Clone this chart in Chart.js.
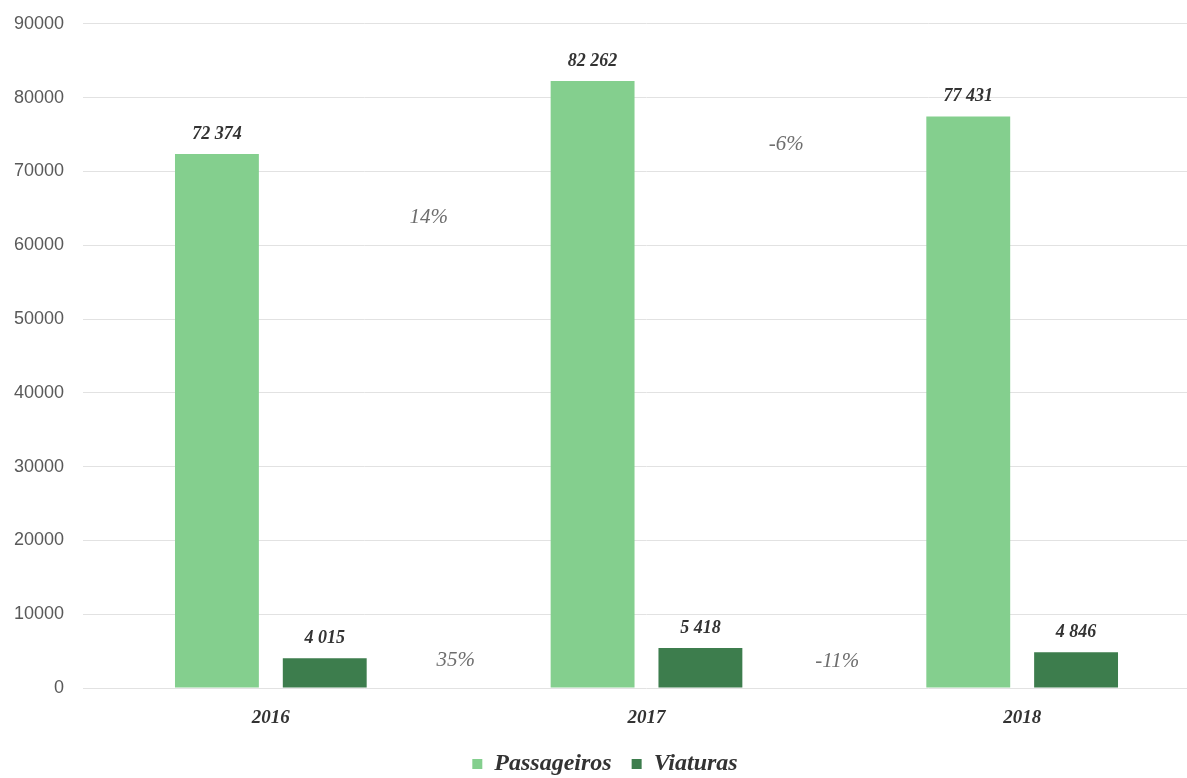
<!DOCTYPE html>
<html>
<head>
<meta charset="utf-8">
<script src="https://cdn.jsdelivr.net/npm/chart.js@4/dist/chart.umd.min.js"></script>
<style>
  html, body { margin: 0; padding: 0; background: #fff; overflow: hidden; }
  #chart { display: block; margin-top: -6px; }
</style>
</head>
<body>
<canvas id="chart" width="1220" height="792"></canvas>
<script>
var years = ["2016", "2017", "2018"];
var passageiros = [72374, 82262, 77431];
var viaturas = [4015, 5418, 4846];
var yTicks = [0, 10000, 20000, 30000, 40000, 50000, 60000, 70000, 80000, 90000];

function fmt(v) {
  return String(v).replace(/\B(?=(\d{3})+(?!\d))/g, " ");
}

function growth(arr, i) {
  var p = Math.round((arr[i + 1] / arr[i] - 1) * 100);
  return (p < 0 ? "-" : "") + Math.abs(p) + "%";
}

// value labels above every bar
var valueLabels = {
  id: "valueLabels",
  afterDatasetsDraw: function (chart) {
    var c = chart.ctx;
    c.save();
    c.font = "italic bold 18px 'Liberation Serif'";
    c.fillStyle = "#333";
    c.textAlign = "center";
    c.textBaseline = "middle";
    chart.data.datasets.forEach(function (ds, di) {
      chart.getDatasetMeta(di).data.forEach(function (bar, i) {
        c.fillText(fmt(ds.data[i]), bar.x, bar.y - 20);
      });
    });
    c.restore();
  }
};

// year-on-year change between the groups
var changeLabels = {
  id: "changeLabels",
  afterDatasetsDraw: function (chart) {
    var c = chart.ctx, x = chart.scales.x, y = chart.scales.y;
    var spots = [
      { arr: passageiros, i: 0, dx: -30, v: 63700 },
      { arr: viaturas, i: 0, dx: -3, v: 3700 },
      { arr: passageiros, i: 1, dx: -48, v: 73700 },
      { arr: viaturas, i: 1, dx: 3, v: 3600 }
    ];
    c.save();
    c.font = "italic 21px 'Liberation Serif'";
    c.fillStyle = "#6e6e6e";
    c.textAlign = "center";
    c.textBaseline = "middle";
    spots.forEach(function (s) {
      var mid = (x.getPixelForValue(s.i) + x.getPixelForValue(s.i + 1)) / 2;
      c.fillText(growth(s.arr, s.i), mid + s.dx, y.getPixelForValue(s.v));
    });
    c.restore();
  }
};

var ctx = document.getElementById("chart").getContext("2d");
var chart = new Chart(ctx, {
  type: "bar",
  data: {
    labels: years,
    datasets: [
      {
        label: "Passageiros",
        backgroundColor: "#84cf8e",
        data: passageiros
      },
      {
        label: "Viaturas",
        backgroundColor: "#3d7d4d",
        data: viaturas
      }
    ]
  },
  options: {
    responsive: false,
    animation: false,
    categoryPercentage: 0.574,
    barPercentage: 0.778,
    layout: { padding: { top: 2, right: 10, left: 0, bottom: 0 } },
    plugins: {
      tooltip: { enabled: false },
      legend: {
        position: "bottom",
        labels: {
          boxWidth: 10,
          boxHeight: 10,
          padding: 20,
          color: "#333",
          font: { family: "'Liberation Serif'", size: 24, style: "italic", weight: "bold" }
        }
      }
    },
    scales: {
      x: {
        grid: { display: false },
        border: { display: false },
        ticks: {
          padding: 11,
          color: "#333",
          font: { family: "'Liberation Serif'", size: 19, style: "italic", weight: "bold" }
        },
        afterFit: function (s) { s.height = 44; }
      },
      y: {
        min: 0,
        max: 90000,
        afterBuildTicks: function (s) {
          s.ticks = yTicks.map(function (v) { return { value: v }; });
        },
        grid: { color: "#e2e2e2", drawTicks: false },
        border: { display: false },
        ticks: {
          padding: 19,
          color: "#595959",
          font: { family: "'Liberation Sans'", size: 18 },
          callback: function (v) { return String(v); }
        },
        afterFit: function (s) { s.width = 83; }
      }
    }
  },
  plugins: [valueLabels, changeLabels]
});
</script>
</body>
</html>
